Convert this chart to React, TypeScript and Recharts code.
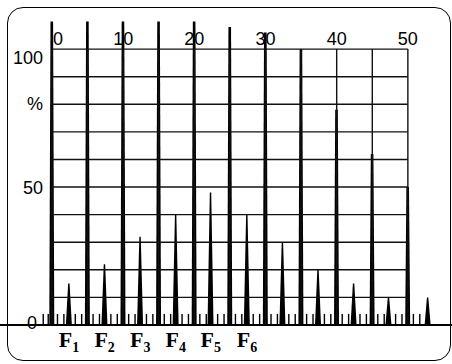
import React from 'react';
import { ComposedChart, Bar, XAxis, YAxis, ReferenceLine } from 'recharts';

// tall peaks every 5 units (the first ones run past 100 %)
const majorPos = [0, 5, 10, 15, 20, 25, 30, 35, 40, 45, 50];
const majorPct = [110, 110, 110, 110, 110, 108, 106, 100, 78, 62, 50];

// the F peaks in between
const peakPos = [2.4, 7.4, 12.4, 17.4, 22.3, 27.4, 32.4, 37.4, 42.4, 47.3, 52.8];
const peakPct = [15, 22, 32, 40, 48, 40, 30, 20, 15, 10, 10];

// small noise ticks on the baseline
const minorPos = [
    -1.2, -0.5, 0.8, 1.7, 3.3, 4.2, 5.8, 6.7, 8.3, 9.2, 10.8, 11.7, 13.3, 14.2,
    15.8, 16.7, 18.3, 19.2, 20.8, 21.7, 23.3, 24.2, 25.8, 26.7, 28.3, 29.2,
    30.8, 31.7, 33.3, 34.2, 35.8, 36.7, 38.3, 39.2, 40.8, 41.7, 43.3, 44.2,
    45.8, 46.7, 48.3, 49.2, 50.8, 51.7
];
const minorPct = 4;

const fTicks = [2.4, 7.4, 12.4, 17.4, 22.3, 27.4];
const fSubs = ['1', '2', '3', '4', '5', '6'];

const xLabelVals = [0, 10, 20, 30, 40, 50];
const yLabelVals = [100, 80, 50, 0];
const yLabelText = ['100', '%', '50', '0'];

const gridX = [0, 5, 10, 15, 20, 25, 30, 35, 40, 45, 50];
const gridY = [10, 20, 30, 40, 50, 60, 70, 80, 90, 100];

const rows = [
    ...majorPos.map((p, i) => ({ pos: p, h: majorPct[i], kind: 'major' })),
    ...peakPos.map((p, i) => ({ pos: p, h: peakPct[i], kind: 'peak' })),
    ...minorPos.map((p) => ({ pos: p, h: minorPct, kind: 'minor' }))
].sort((a, b) => a.pos - b.pos);

const SANS = "'Liberation Sans', Arial, Helvetica, sans-serif";
const SERIF = "'Liberation Serif', 'Times New Roman', serif";

// label offsets (dx from the end, dy from the line)
const yLabelStyle: Record<string, { dx: number; dy: number }> = {
    '100': { dx: 9, dy: 14.5 },
    '%': { dx: 9, dy: 6 },
    '50': { dx: 9, dy: 7 },
    '0': { dx: 15, dy: 3.5 }
};

const Spike = (props: any) => {
    const { x, y, width, height, payload } = props;
    if (height == null || height <= 0) return null;
    const cx = x + width / 2;
    const base = y + height;
    if (payload.kind === 'major') {
        return <polygon points={`${cx - 2.5},${base} ${cx - 1.3},${y} ${cx + 1.3},${y} ${cx + 2.5},${base}`} fill="#000" />;
    }
    if (payload.kind === 'peak') {
        return <polygon points={`${cx - 3},${base} ${cx - 0.7},${y} ${cx + 0.7},${y} ${cx + 3},${base}`} fill="#000" />;
    }
    return <rect x={cx - 0.7} y={y} width={1.4} height={height} fill="#000" />;
};

const FTick = (props: any) => {
    const { x, y, payload } = props;
    const i = fTicks.indexOf(payload.value);
    return (
        <text x={x} y={y + 22} textAnchor="middle" fontFamily={SERIF} fontWeight="bold" fontSize={22} fill="#000">
            F<tspan fontSize={14} dy={5}>{fSubs[i]}</tspan>
        </text>
    );
};

export default function App() {
    return (
        <div style={{ position: 'absolute', left: 0, top: 0, width: 452, height: 364, background: '#fff' }}>
            <div
                style={{
                    position: 'absolute',
                    left: 7,
                    top: 7,
                    width: 444,
                    height: 354,
                    boxSizing: 'border-box',
                    border: '1.5px solid #000',
                    borderRadius: 16
                }}
            />
            <div style={{ position: 'absolute', left: 0, top: 0 }}>
                <ComposedChart width={452} height={364} data={rows} margin={{ top: 16, right: 0, bottom: 9, left: 0 }}>
                    <XAxis
                        dataKey="pos"
                        type="number"
                        domain={[-7.3, 56.2]}
                        allowDataOverflow
                        ticks={fTicks}
                        interval={0}
                        axisLine={false}
                        tickLine={false}
                        tickSize={0}
                        tickMargin={0}
                        height={30}
                        tick={<FTick />}
                    />
                    <YAxis type="number" domain={[0, 112]} allowDataOverflow hide />

                    {gridY.map((v) => (
                        <ReferenceLine
                            key={'gy' + v}
                            segment={[{ x: 0, y: v }, { x: 50, y: v }]}
                            stroke="#111"
                            strokeWidth={1.4}
                        />
                    ))}
                    {gridX.map((v) => (
                        <ReferenceLine
                            key={'gx' + v}
                            segment={[{ x: v, y: 0 }, { x: v, y: 100 }]}
                            stroke="#111"
                            strokeWidth={1.4}
                        />
                    ))}
                    <ReferenceLine y={0} stroke="#000" strokeWidth={2} />

                    {yLabelVals.map((v, i) => (
                        <ReferenceLine
                            key={'yl' + v}
                            segment={[{ x: 0, y: v }, { x: 0, y: v }]}
                            stroke="none"
                            label={(p: any) => {
                                const s = yLabelStyle[yLabelText[i]];
                                return (
                                    <text x={p.viewBox.x - s.dx} y={p.viewBox.y + s.dy} textAnchor="end" fontFamily={SANS} fontSize={18} fill="#000">
                                        {yLabelText[i]}
                                    </text>
                                );
                            }}
                        />
                    ))}
                    {xLabelVals.map((v) => (
                        <ReferenceLine
                            key={'xl' + v}
                            segment={[{ x: v, y: 100 }, { x: v, y: 100 }]}
                            stroke="none"
                            label={(p: any) => (
                                <text x={p.viewBox.x + (v === 0 ? 6 : 0)} y={p.viewBox.y - 4} textAnchor="middle" fontFamily={SANS} fontSize={18} fill="#000">
                                    {v}
                                </text>
                            )}
                        />
                    ))}

                    <Bar dataKey="h" barSize={6} shape={<Spike />} isAnimationActive={false} />
                </ComposedChart>
            </div>
        </div>
    );
}
